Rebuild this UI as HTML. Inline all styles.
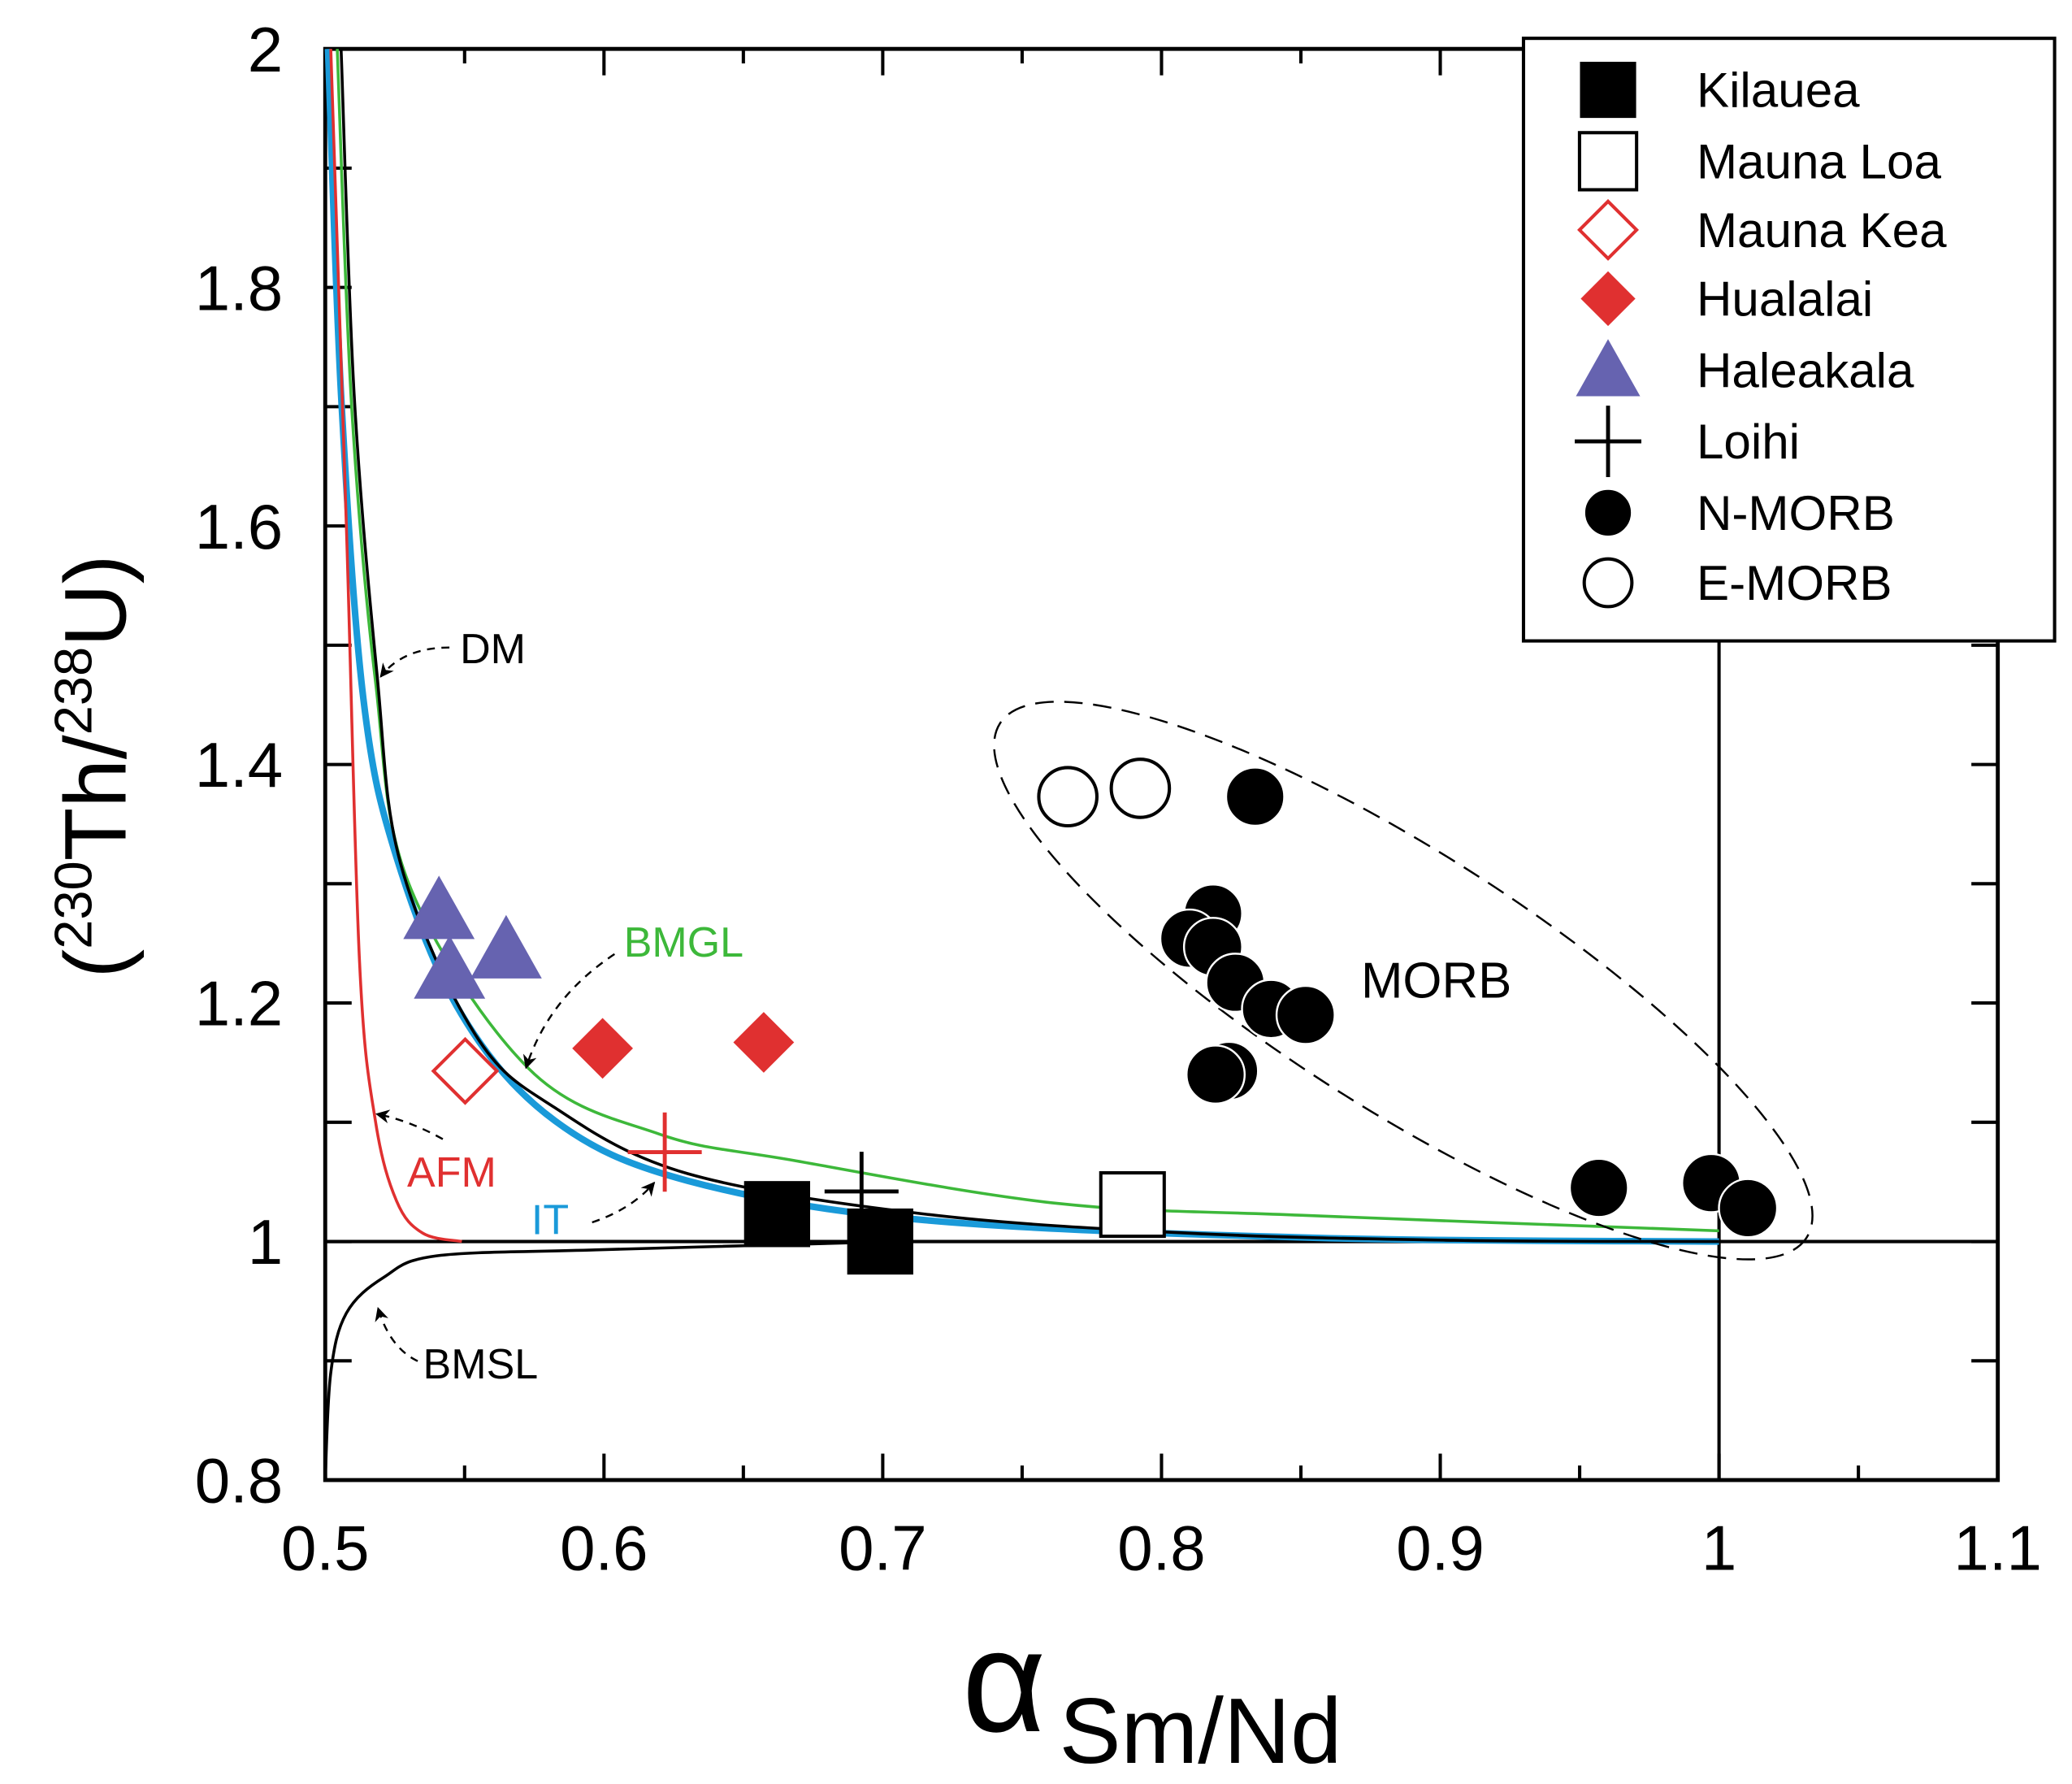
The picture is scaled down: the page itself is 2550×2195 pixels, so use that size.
<!DOCTYPE html>
<html><head><meta charset="utf-8"><style>
html,body{margin:0;padding:0;background:#fff;}
svg{display:block;font-family:"Liberation Sans","DejaVu Sans",sans-serif;}
</style></head><body>
<svg id="chart" width="2550" height="2195" viewBox="0 0 1568 1350" xmlns="http://www.w3.org/2000/svg">
<defs>
<marker id="ah" viewBox="0 0 10 10" refX="9" refY="5" markerWidth="7" markerHeight="7" orient="auto"><path d="M0,0 L10,5 L0,10 L3,5 z" fill="#000"/></marker>
</defs>
<g id="axes"></g>
<g id="curves"></g>
<g id="annot">
<ellipse cx="1062" cy="742" rx="362" ry="97" transform="rotate(32.5 1062 742)" fill="none" stroke="#000" stroke-width="1.5" stroke-dasharray="14,8"/>
<text x="1030" y="755" font-size="38">MORB</text>
<text x="348" y="502" font-size="32">DM</text>
<path d="M340,490 Q305,490 288,512" fill="none" stroke="#000" stroke-width="1.5" stroke-dasharray="6,5" marker-end="url(#ah)"/>
<text x="472" y="724" font-size="32" fill="#3db83a">BMGL</text>
<path d="M465,722 Q415,755 398,808" fill="none" stroke="#000" stroke-width="1.5" stroke-dasharray="6,5" marker-end="url(#ah)"/>
<text x="308" y="898" font-size="32" fill="#e03030">AFM</text>
<path d="M335,862 Q310,848 285,843" fill="none" stroke="#000" stroke-width="1.5" stroke-dasharray="6,5" marker-end="url(#ah)"/>
<text x="402" y="934" font-size="32" fill="#1a9ad9">IT</text>
<path d="M448,925 Q478,915 495,895" fill="none" stroke="#000" stroke-width="1.5" stroke-dasharray="6,5" marker-end="url(#ah)"/>
<text x="320" y="1043" font-size="32">BMSL</text>
<path d="M316,1030 Q295,1020 286,990" fill="none" stroke="#000" stroke-width="1.5" stroke-dasharray="6,5" marker-end="url(#ah)"/>
</g>
<g id="points"></g>
<g id="legend"></g>
<text transform="translate(95,580) rotate(-90)" text-anchor="middle" font-size="66">(<tspan font-size="40" dy="-26">230</tspan><tspan dy="26">Th/</tspan><tspan font-size="40" dy="-26">238</tspan><tspan dy="26">U)</tspan></text>
<text x="728" y="1310" font-size="110">α<tspan font-size="70" dy="24" dx="10">Sm/Nd</tspan></text>
</svg>
<script>
const xTicks=[0.5,0.6,0.7,0.8,0.9,1,1.1];
const xTickLabels=["0.5","0.6","0.7","0.8","0.9","1","1.1"];
const yTicks=[0.8,1,1.2,1.4,1.6,1.8,2];
const yTickLabels=["0.8","1","1.2","1.4","1.6","1.8","2"];
const dmX=[0.5057,0.5104,0.5185,0.527,0.554,0.5825,0.63,0.715,0.81,0.905,1.0];
const dmY=[2.0,1.71,1.478,1.317,1.173,1.112,1.057,1.023,1.007,1.001,1.0];
const bmglX=[0.5043,0.5095,0.518,0.53,0.573,0.62,0.668,0.7625,0.85,1.0];
const bmglY=[2.0,1.7,1.47,1.3,1.145,1.09,1.068,1.032,1.022,1.009];
const itX=[0.501,0.5057,0.5137,0.5256,0.549,0.5825,0.63,0.715,0.857,1.0];
const itY=[2.0,1.71,1.455,1.322,1.19,1.101,1.051,1.018,1.003,1.0];
const afmX=[0.502,0.5076,0.5123,0.518,0.5256,0.535,0.549];
const afmY=[2.0,1.6,1.234,1.101,1.034,1.007,1.0];
const bmslX=[0.5,0.502,0.5076,0.521,0.54,0.597,0.69,0.7];
const bmslY=[0.8,0.89,0.94,0.97,0.988,0.993,0.999,1.0];
const kilaueaX=[0.6621,0.6991];const kilaueaY=[1.023,1.0];
const maunaLoaX=[0.7896];const maunaLoaY=[1.031];
const maunaKeaX=[0.5502];const maunaKeaY=[1.143];
const hualalaiX=[0.5995,0.6573];const hualalaiY=[1.162,1.167];
const haleakalaX=[0.5408,0.5446,0.5649];const haleakalaY=[1.278,1.228,1.245];
const loihiX=[0.6924];const loihiY=[1.042];
const loihiRedX=[0.6218];const loihiRedY=[1.075];
const nmorbX=[0.8336,0.8185,0.81,0.8185,0.8265,0.8393,0.8517,0.8242,0.8194,0.9569,0.9972,1.0104];
const nmorbY=[1.373,1.275,1.254,1.247,1.217,1.195,1.19,1.143,1.14,1.045,1.049,1.028];
const emorbX=[0.7664,0.7924];const emorbY=[1.373,1.38];

const L=246,R=1512,T=37,B=1120;
const sx=v=>L+(v-0.5)/0.6*(R-L);
const sy=v=>B-(v-0.8)/1.2*(B-T);
const NS="http://www.w3.org/2000/svg";
function mk(tag,attrs,parent){const e=document.createElementNS(NS,tag);for(const k in attrs)e.setAttribute(k,attrs[k]);parent.appendChild(e);return e;}
const axes=document.getElementById('axes');
let e=mk('rect',{x:L,y:T,width:R-L,height:B-T,fill:'none',stroke:'#000','stroke-width':3},axes);


for(let v=0.5;v<=1.1001;v+=0.05){const x=sx(v);const big=Math.abs(v*10-Math.round(v*10))<1e-6;
 e=mk('line',{x1:x,x2:x,y1:B,y2:B-(big?20:11),stroke:'#000','stroke-width':2.5},axes);
 
 
 e=mk('line',{x1:x,x2:x,y1:T,y2:T+(big?20:11),stroke:'#000','stroke-width':2.5},axes);
 
 }
for(let v=0.8;v<=2.0001;v+=0.1){const y=sy(v);
 e=mk('line',{x1:L,x2:L+20,y1:y,y2:y,stroke:'#000','stroke-width':2.5},axes);
 
 
 e=mk('line',{x1:R,x2:R-20,y1:y,y2:y,stroke:'#000','stroke-width':2.5},axes);
 
 }
xTicks.forEach((v,i)=>{e=mk('text',{x:sx(v),y:1188,'text-anchor':'middle','font-size':48},axes);e.textContent=xTickLabels[i];
 
 });
yTicks.forEach((v,i)=>{e=mk('text',{x:214,y:sy(v)+17,'text-anchor':'end','font-size':48},axes);e.textContent=yTickLabels[i];
 
 });
e=mk('line',{x1:L,x2:R,y1:sy(1),y2:sy(1),stroke:'#000','stroke-width':2.5},axes);


e=mk('line',{x1:sx(1),x2:sx(1),y1:T,y2:B,stroke:'#000','stroke-width':2.5},axes);



const cg=document.getElementById('curves');
function curve(xs,ys,col,w,name){
 const P=xs.map((x,i)=>[sx(x),sy(ys[i])]);
 let d='M'+P[0][0].toFixed(1)+','+P[0][1].toFixed(1);
 for(let i=0;i<P.length-1;i++){const p0=P[Math.max(0,i-1)],p1=P[i],p2=P[i+1],p3=P[Math.min(P.length-1,i+2)];
  const c1=[p1[0]+(p2[0]-p0[0])/6,p1[1]+(p2[1]-p0[1])/6],c2=[p2[0]-(p3[0]-p1[0])/6,p2[1]-(p3[1]-p1[1])/6];
  d+=` C${c1[0].toFixed(1)},${c1[1].toFixed(1)} ${c2[0].toFixed(1)},${c2[1].toFixed(1)} ${p2[0].toFixed(1)},${p2[1].toFixed(1)}`;}
 const p=mk('path',{d:d,fill:'none',stroke:col,'stroke-width':w,'stroke-linejoin':'round'},cg);
 
 }
curve(itX,itY,'#1a9ad9',5,'it-curve');
curve(afmX,afmY,'#e03030',2.2,'afm-curve');
curve(bmglX,bmglY,'#3db83a',2.2,'bmgl-curve');
curve(dmX,dmY,'#000',2.2,'dm-curve');
curve(bmslX,bmslY,'#000',2.2,'bmsl-curve');

function marker(type,cx,cy,g,s){let el;s=s||1;
 if(type==='sq')el=mk('rect',{x:cx-25*s,y:cy-25*s,width:50*s,height:50*s,fill:'#000'},g);
 else if(type==='osq')el=mk('rect',{x:cx-24*s,y:cy-24*s,width:48*s,height:48*s,fill:'#fff',stroke:'#000','stroke-width':2.5},g);
 else if(type==='odia')el=mk('path',{d:`M${cx},${cy-24*s}L${cx+24*s},${cy}L${cx},${cy+24*s}L${cx-24*s},${cy}Z`,fill:'#fff',stroke:'#e03030','stroke-width':2.5},g);
 else if(type==='dia')el=mk('path',{d:`M${cx},${cy-23*s}L${cx+23*s},${cy}L${cx},${cy+23*s}L${cx-23*s},${cy}Z`,fill:'#e03030'},g);
 else if(type==='tri')el=mk('path',{d:`M${cx},${cy-26*s}L${cx+27*s},${cy+22*s}L${cx-27*s},${cy+22*s}Z`,fill:'#6663b0'},g);
 else if(type==='plus'||type==='rplus'){const c=type==='rplus'?'#e03030':'#000';el=mk('path',{d:`M${cx-28*s},${cy}H${cx+28*s}M${cx},${cy-30*s}V${cy+30*s}`,stroke:c,'stroke-width':3,fill:'none'},g);}
 else if(type==='dot')el=mk('circle',{cx:cx,cy:cy,r:22*s,fill:'#000',stroke:'#fff','stroke-width':1.5},g);
 else if(type==='odot')el=mk('circle',{cx:cx,cy:cy,r:22*s,fill:'#fff',stroke:'#000','stroke-width':2.5},g);
 return el;}
const pg=document.getElementById('points');
function series(xs,ys,type,name){xs.forEach((x,i)=>{const el=marker(type,sx(x),sy(ys[i]),pg);
 
 });}
series(maunaLoaX,maunaLoaY,'osq','mauna-loa-point');
series(kilaueaX,kilaueaY,'sq','kilauea-point');
series(maunaKeaX,maunaKeaY,'odia','mauna-kea-point');
series(hualalaiX,hualalaiY,'dia','hualalai-point');
series(haleakalaX,haleakalaY,'tri','haleakala-point');
series(loihiX,loihiY,'plus','loihi-point');
series(loihiRedX,loihiRedY,'rplus','loihi-red-point');
series(emorbX,emorbY,'odot','e-morb-point');
series(nmorbX,nmorbY,'dot','n-morb-point');

const lg=document.getElementById('legend');
e=mk('rect',{x:1153,y:29,width:402,height:456,fill:'#fff',stroke:'#000','stroke-width':2.5},lg);


const legNames=["Kilauea","Mauna Loa","Mauna Kea","Hualalai","Haleakala","Loihi","N-MORB","E-MORB"];
const legTypes=['sq','osq','odia','dia','tri','plus','dot','odot'];
const legY=[68,122,174,226,280,334,388,441];
legNames.forEach((n,i)=>{const m=marker(legTypes[i],1217,legY[i],lg,i>=6?0.82:(i==0?0.85:0.9));
 
 
 const t=mk('text',{x:1284,y:legY[i]+13,'font-size':37},lg);t.textContent=n;
 
 });
</script>
</body></html>
